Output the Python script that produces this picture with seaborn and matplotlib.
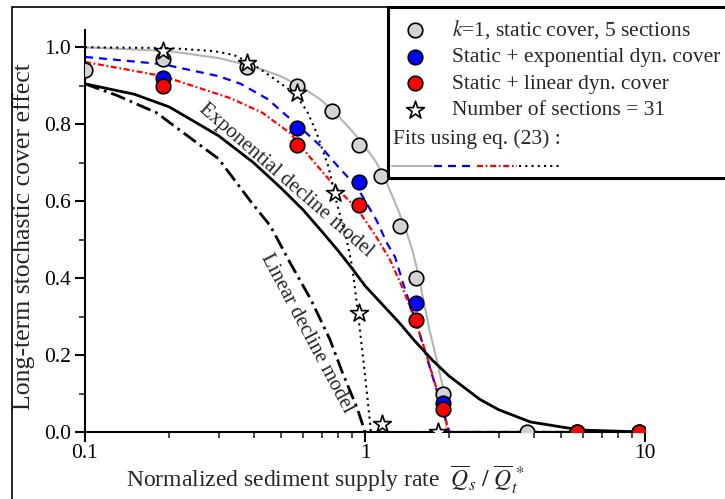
import matplotlib
matplotlib.use('Agg')
import matplotlib.pyplot as plt
from matplotlib.patches import Rectangle
from matplotlib.ticker import FixedLocator, FixedFormatter, NullFormatter
import seaborn as sns

sns.set_style('ticks')
plt.rcParams['font.family'] = ['Liberation Serif', 'DejaVu Serif']
plt.rcParams['mathtext.fontset'] = 'stix'

# --- measured points -------------------------------------------------------
static_x = [0.1, 0.19, 0.38, 0.57, 0.76, 0.95, 1.14, 1.33, 1.52, 1.9, 3.8, 5.7, 9.5]
static_y = [0.94, 0.97, 0.95, 0.90, 0.835, 0.745, 0.665, 0.535, 0.40, 0.10, 0.0, 0.0, 0.0]

expo_x = [0.19, 0.57, 0.95, 1.52, 1.9, 5.7, 9.5]
expo_y = [0.92, 0.79, 0.65, 0.335, 0.075, 0.0, 0.0]

lin_x = [0.19, 0.57, 0.95, 1.52, 1.9, 5.7, 9.5]
lin_y = [0.90, 0.745, 0.59, 0.29, 0.06, 0.0, 0.0]

sec31_x = [0.19, 0.38, 0.57, 0.78, 0.95, 1.15, 1.82]
sec31_y = [0.99, 0.96, 0.88, 0.62, 0.31, 0.02, 0.0]

# --- fitted / model curves ------------------------------------------------
fit_static_x = [0.1, 0.2, 0.3, 0.4, 0.5, 0.6, 0.7, 0.8, 0.9, 1.0, 1.1, 1.2, 1.3,
                1.4, 1.48, 1.55, 1.62, 1.7, 1.8, 1.9, 1.96, 10]
fit_static_y = [1.0, 0.99, 0.972, 0.95, 0.925, 0.895, 0.862, 0.822, 0.782, 0.742,
                0.70, 0.645, 0.585, 0.525, 0.47, 0.41, 0.34, 0.265, 0.19, 0.115, 0.0, 0.0]

fit_expo_x = [0.1, 0.19, 0.3, 0.36, 0.45, 0.51, 0.57, 0.69, 0.79, 0.94, 1.1, 1.2,
              1.28, 1.37, 1.53, 1.75, 2.0, 10]
fit_expo_y = [0.975, 0.956, 0.925, 0.905, 0.865, 0.83, 0.80, 0.745, 0.695, 0.635,
              0.55, 0.49, 0.455, 0.385, 0.28, 0.14, 0.0, 0.0]

fit_lin_x = [0.1, 0.19, 0.33, 0.43, 0.54, 0.64, 0.79, 0.94, 1.10, 1.23, 1.37, 1.53,
             1.68, 2.0, 10]
fit_lin_y = [0.962, 0.925, 0.868, 0.83, 0.777, 0.712, 0.634, 0.58, 0.506, 0.447,
             0.37, 0.28, 0.187, 0.0, 0.0]

fit_31_x = [0.1, 0.2, 0.29, 0.34, 0.4, 0.47, 0.56, 0.62, 0.67, 0.74, 0.79, 0.86,
            0.9, 0.94, 0.98, 1.02, 1.05, 10]
fit_31_y = [1.0, 0.998, 0.99, 0.98, 0.955, 0.92, 0.88, 0.835, 0.78, 0.69, 0.60,
            0.50, 0.43, 0.32, 0.205, 0.09, 0.0, 0.0]

expdecl_x = [0.1, 0.15, 0.2, 0.3, 0.4, 0.5, 0.6, 0.7, 0.8, 0.9, 1.0, 1.2, 1.33,
             1.5, 1.75, 2.0, 2.57, 3.0, 3.9, 5.9, 10]
expdecl_y = [0.905, 0.878, 0.845, 0.77, 0.70, 0.635, 0.578, 0.522, 0.472, 0.425,
             0.38, 0.318, 0.283, 0.238, 0.185, 0.145, 0.085, 0.058, 0.026, 0.005, 0.0]

lindecl_x = [0.1, 0.13, 0.18, 0.2, 0.3, 0.39, 0.46, 0.54, 0.64, 0.75, 0.83, 0.94, 1.0]
lindecl_y = [0.905, 0.875, 0.83, 0.805, 0.71, 0.60, 0.535, 0.44, 0.345, 0.24,
             0.155, 0.06, 0.0]

x_ticks = [0.1, 1, 10]
x_ticklabels = ['0.1', '1', '10']
y_ticks = [0.0, 0.2, 0.4, 0.6, 0.8, 1.0]

fig = plt.figure(figsize=(7.25, 4.99), dpi=100)
ax = fig.add_axes([85 / 725, 67 / 499, 560 / 725, 402 / 499])
ax.set_xscale('log')

line_kw = dict(ax=ax, estimator=None, sort=False, zorder=2)
sns.lineplot(x=fit_static_x, y=fit_static_y, color='#b4b4b4', lw=1.5, **line_kw)
sns.lineplot(x=fit_expo_x, y=fit_expo_y, color='#0000ff', lw=1.6,
             linestyle=(0, (3.6, 2.7)), **line_kw)
sns.lineplot(x=fit_lin_x, y=fit_lin_y, color='#ff0000', lw=1.6,
             linestyle=(0, (2.7, 1.2, 0.8, 1.2)), **line_kw)
sns.lineplot(x=fit_31_x, y=fit_31_y, color='black', lw=1.5,
             linestyle=(0, (1, 2)), **line_kw)
sns.lineplot(x=expdecl_x, y=expdecl_y, color='black', lw=2.0, **line_kw)
sns.lineplot(x=lindecl_x, y=lindecl_y, color='black', lw=2.0,
             linestyle=(0, (5.4, 1.8, 1, 1.8)), **line_kw)

pt_kw = dict(ax=ax, edgecolor='black', linewidth=1.2, zorder=3)
sns.scatterplot(x=static_x, y=static_y, s=110, color='#d4d4d4',
                label=r'$k$=1, static cover, 5 sections', **pt_kw)
sns.scatterplot(x=expo_x, y=expo_y, s=110, color='#0000ff',
                label='Static + exponential dyn. cover', **pt_kw)
sns.scatterplot(x=lin_x, y=lin_y, s=110, color='#ff0000',
                label='Static + linear dyn. cover', **pt_kw)
sns.scatterplot(x=sec31_x, y=sec31_y, s=180, marker='*', color='white',
                label='Number of sections = 31', **pt_kw)

ax.set_xlim(0.1, 10)
ax.set_ylim(0, 1.045)
ax.xaxis.set_major_locator(FixedLocator(x_ticks))
ax.xaxis.set_major_formatter(FixedFormatter(x_ticklabels))
ax.xaxis.set_minor_locator(FixedLocator([0.2, 0.3, 0.4, 0.5, 0.6, 0.7, 0.8, 0.9,
                                         2, 3, 4, 5, 6, 7, 8, 9]))
ax.xaxis.set_minor_formatter(NullFormatter())
ax.yaxis.set_major_locator(FixedLocator(y_ticks))
ax.yaxis.set_major_formatter(FixedFormatter([f'{v:.1f}' for v in y_ticks]))
ax.yaxis.set_minor_locator(FixedLocator([0.1, 0.3, 0.5, 0.7, 0.9]))
ax.tick_params(which='major', length=7, width=1.5, direction='out',
               labelsize=15.5, colors='black')
ax.tick_params(axis='x', which='major', pad=2)
ax.tick_params(axis='y', which='major', pad=3)
ax.tick_params(which='minor', length=4, width=1.2, direction='out')
sns.despine(ax=ax)
for sp in ('left', 'bottom'):
    ax.spines[sp].set_linewidth(1.5)
    ax.spines[sp].set_color('black')

ax.set_ylabel('Long-term stochastic cover effect', fontsize=18.5)
ax.yaxis.set_label_coords(-50 / 560, 0.485)
ax.set_xlabel(r'Normalized sediment supply rate  $\overline{Q}_s\ /\ \overline{Q}_t^{\,*}$',
              fontsize=17)
ax.xaxis.set_label_coords(0.43, -32 / 402)

ax.text(0.52, 0.655, 'Exponential decline model', rotation=-41,
        rotation_mode='anchor', ha='center', va='center', fontsize=15)
ax.text(0.62, 0.257, 'Linear decline model', rotation=-62,
        rotation_mode='anchor', ha='center', va='center', fontsize=15)

# legend with the measured series
handles, labels = ax.get_legend_handles_labels()
ax.legend(handles, labels, loc='upper left',
          bbox_to_anchor=(396 / 725, 1 - 18 / 499), bbox_transform=fig.transFigure,
          frameon=False, fontsize=15.5, handletextpad=0.85, labelspacing=0.3,
          borderpad=0, borderaxespad=0, handlelength=1.75)
fig.text(393 / 725, 1 - 139 / 499, 'Fits using eq. (23) :', fontsize=15.5, va='center')
fig.legend(ax.lines[:4], [''] * 4, ncol=4, loc='center left',
           bbox_to_anchor=(392 / 725, 1 - 167 / 499), frameon=False,
           handlelength=2.9, handletextpad=0, columnspacing=0.15,
           borderpad=0, borderaxespad=0)
fig.add_artist(Rectangle((388 / 725, 1 - 178 / 499), 400 / 725, 171 / 499,
                         transform=fig.transFigure, fill=False, ec='black', lw=2.2))
fig.add_artist(Rectangle((12 / 725, -0.2), 2, 1.2 - 7 / 499,
                         transform=fig.transFigure, fill=False, ec='black', lw=1.2))

fig.savefig('out.png', dpi=100)
